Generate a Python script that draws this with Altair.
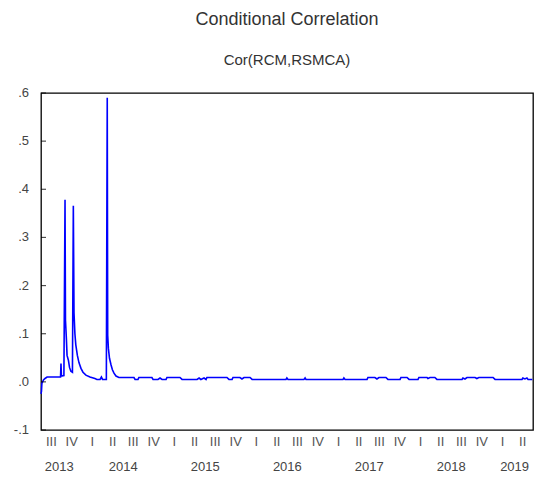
import altair as alt
import pandas as pd

# ---- series (date, conditional correlation) ----
dates = [
    "2013-07-01", "2013-07-03", "2013-07-05", "2013-07-12", "2013-07-19", "2013-07-28",
    "2013-09-26", "2013-09-28", "2013-09-30", "2013-10-11", "2013-10-16", "2013-10-18",
    "2013-10-22", "2013-10-25", "2013-10-31", "2013-11-05", "2013-11-11", "2013-11-18",
    "2013-11-22", "2013-11-25", "2013-11-29", "2013-12-03", "2013-12-10", "2013-12-17",
    "2013-12-26", "2014-01-04", "2014-01-17", "2014-02-04", "2014-02-26", "2014-03-07",
    "2014-03-21", "2014-03-27", "2014-04-01", "2014-04-18", "2014-04-22", "2014-04-24",
    "2014-04-27", "2014-05-02", "2014-05-09", "2014-05-15", "2014-05-22", "2014-05-31",
    "2014-06-13", "2014-08-19", "2014-08-24", "2014-09-06", "2014-09-10", "2014-11-07",
    "2014-11-12", "2014-12-04", "2014-12-13", "2014-12-22", "2015-01-09", "2015-01-13",
    "2015-03-12", "2015-03-21", "2015-05-27", "2015-06-05", "2015-06-13", "2015-06-27",
    "2015-07-06", "2015-07-10", "2015-10-07", "2015-10-16", "2015-10-30", "2015-11-03",
    "2015-12-04", "2015-12-13", "2015-12-22", "2016-01-18", "2016-01-27", "2016-06-26",
    "2016-06-30", "2016-07-05", "2016-09-14", "2016-09-19", "2016-09-23", "2017-03-07",
    "2017-03-11", "2017-03-16", "2017-06-22", "2017-06-26", "2017-07-27", "2017-08-05",
    "2017-08-14", "2017-09-14", "2017-09-23", "2017-11-16", "2017-11-20", "2017-12-17",
    "2017-12-26", "2018-02-04", "2018-02-08", "2018-03-16", "2018-03-20", "2018-03-29",
    "2018-04-20", "2018-04-29", "2018-08-19", "2018-08-23", "2018-09-01", "2018-09-10",
    "2018-10-16", "2018-10-24", "2018-11-02", "2019-01-04", "2019-01-13", "2019-05-13",
    "2019-05-17", "2019-05-26", "2019-06-04", "2019-06-09", "2019-06-28",
]
values = [
    -0.025, -0.020, -0.003, 0.004, 0.007, 0.010,
    0.010, 0.038, 0.012, 0.013, 0.378, 0.128,
    0.090, 0.055, 0.045, 0.030, 0.022, 0.020,
    0.366, 0.143, 0.100, 0.077, 0.055, 0.040,
    0.028, 0.020, 0.014, 0.010, 0.007, 0.005,
    0.005, 0.010, 0.005, 0.005, 0.590, 0.097,
    0.070, 0.049, 0.035, 0.025, 0.018, 0.012,
    0.009, 0.009, 0.005, 0.005, 0.009, 0.009,
    0.005, 0.005, 0.008, 0.005, 0.005, 0.009,
    0.009, 0.005, 0.005, 0.008, 0.005, 0.008,
    0.005, 0.009, 0.009, 0.005, 0.005, 0.009,
    0.009, 0.006, 0.009, 0.009, 0.005, 0.005,
    0.008, 0.005, 0.005, 0.008, 0.005, 0.005,
    0.008, 0.005, 0.005, 0.009, 0.009, 0.006,
    0.009, 0.009, 0.005, 0.005, 0.009, 0.009,
    0.005, 0.005, 0.009, 0.009, 0.007, 0.009,
    0.009, 0.005, 0.005, 0.008, 0.006, 0.009,
    0.009, 0.007, 0.009, 0.009, 0.005, 0.005,
    0.008, 0.006, 0.008, 0.005, 0.005,
]

# ---- axis texts ----
y_ticks = [-0.1, 0.0, 0.1, 0.2, 0.3, 0.4, 0.5, 0.6]
y_labels = ["-.1", ".0", ".1", ".2", ".3", ".4", ".5", ".6"]

quarter_dates = [
    "2013-08-16", "2013-11-15",
    "2014-02-15", "2014-05-16", "2014-08-16", "2014-11-15",
    "2015-02-15", "2015-05-16", "2015-08-16", "2015-11-15",
    "2016-02-15", "2016-05-16", "2016-08-16", "2016-11-15",
    "2017-02-15", "2017-05-16", "2017-08-16", "2017-11-15",
    "2018-02-15", "2018-05-16", "2018-08-16", "2018-11-15",
    "2019-02-15", "2019-05-16",
]
quarter_labels = [
    "III", "IV",
    "I", "II", "III", "IV",
    "I", "II", "III", "IV",
    "I", "II", "III", "IV",
    "I", "II", "III", "IV",
    "I", "II", "III", "IV",
    "I", "II",
]
year_dates = ["2013-09-20", "2014-07-02", "2015-07-02", "2016-07-02",
              "2017-07-02", "2018-07-02", "2019-04-10"]
year_labels = ["2013", "2014", "2015", "2016", "2017", "2018", "2019"]

FONT = "Liberation Sans"
W, H = 492, 337

series = pd.DataFrame({"date": dates, "value": values})
qdf = pd.DataFrame({"date": quarter_dates, "label": quarter_labels})
ydf = pd.DataFrame({"date": year_dates, "label": year_labels})
tdf = pd.DataFrame({"v": y_ticks, "label": y_labels})

month_ticks = [
    alt.DateTime(year=yr, month=m, date=1, utc=True)
    for yr in range(2013, 2020) for m in range(1, 13)
    if (yr, m) >= (2013, 7) and (yr, m) <= (2019, 7)
]

xscale = alt.Scale(
    type="utc",
    domain=[alt.DateTime(year=2013, month=7, date=1, utc=True),
            alt.DateTime(year=2019, month=7, date=1, utc=True)],
    nice=False,
)
yscale = alt.Scale(domain=[-0.1, 0.6], nice=False, zero=False)

line = alt.Chart(series).mark_line(
    color="#0000FF", strokeWidth=1.6, interpolate="linear"
).encode(
    x=alt.X("date:T", scale=xscale, title=None,
            axis=alt.Axis(values=month_ticks, labels=False, domain=False, grid=False,
                          tickColor="black", tickWidth=1.2,
                          tickSize={"condition": {"test": "utcmonth(datum.value) % 3 === 0",
                                                  "value": 5},
                                    "value": 2.5})),
    y=alt.Y("value:Q", scale=yscale, axis=None),
)

yt = alt.Chart(tdf).mark_tick(color="black", thickness=1.2).encode(
    y=alt.Y("v:Q", scale=yscale, axis=None),
    x=alt.value(2.5),
    size=alt.value(5),
)

ylab = alt.Chart(tdf).mark_text(
    font=FONT, fontSize=13, color="#444444", baseline="middle", align="right"
).encode(
    y=alt.Y("v:Q", scale=yscale, axis=None),
    x=alt.value(-12),
    text="label:N",
)

qtext = alt.Chart(qdf).mark_text(
    font=FONT, fontSize=13, color="#555555", baseline="middle", align="center"
).encode(
    x=alt.X("date:T", scale=xscale, axis=None),
    y=alt.value(H + 12),
    text="label:N",
)

ytext = alt.Chart(ydf).mark_text(
    font=FONT, fontSize=13, color="#444444", baseline="middle", align="center"
).encode(
    x=alt.X("date:T", scale=xscale, axis=None),
    y=alt.value(H + 37),
    text="label:N",
)

chart = alt.layer(line, yt, ylab, qtext, ytext).properties(
    width=W, height=H,
    title=alt.TitleParams(
        "Conditional Correlation",
        subtitle="Cor(RCM,RSMCA)",
        font=FONT, fontSize=18, fontWeight="normal", color="#333333",
        subtitleFont=FONT, subtitleFontSize=15, subtitleColor="#333333",
        anchor="middle", offset=19, subtitlePadding=24,
    ),
    autosize=alt.AutoSizeParams(type="none"),
    padding={"left": 41, "top": 93, "right": 4, "bottom": 52},
).configure_view(stroke="black", strokeWidth=1.3)

chart.save("out.html", embed_options={"renderer": "svg", "actions": False})
